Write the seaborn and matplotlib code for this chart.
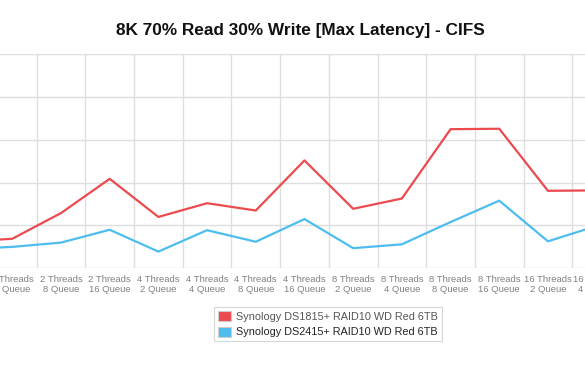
import pandas as pd
import matplotlib.pyplot as plt
import seaborn as sns
from matplotlib.patches import Patch

# --- DATEN ---
categories = [
    "2 Threads\n2 Queue", "2 Threads\n4 Queue", "2 Threads\n8 Queue", "2 Threads\n16 Queue",
    "4 Threads\n2 Queue", "4 Threads\n4 Queue", "4 Threads\n8 Queue", "4 Threads\n16 Queue",
    "8 Threads\n2 Queue", "8 Threads\n4 Queue", "8 Threads\n8 Queue", "8 Threads\n16 Queue",
    "16 Threads\n2 Queue", "16 Threads\n4 Queue",
]
series_names = ["Synology DS1815+ RAID10 WD Red 6TB", "Synology DS2415+ RAID10 WD Red 6TB"]
ds1815_values = [0.62, 0.69, 1.29, 2.09, 1.20, 1.52, 1.35, 2.52, 1.39, 1.63, 3.25, 3.26, 1.81, 1.82]
ds2415_values = [0.45, 0.50, 0.60, 0.90, 0.39, 0.89, 0.62, 1.15, 0.47, 0.56, 1.08, 1.58, 0.63, 0.99]
y_ticks = [0, 1, 2, 3, 4, 5]

RED = "#ec4a4e"
BLUE = "#4dbdef"
GRID = "#dedede"

df = pd.DataFrame({
    "Kategorie": categories * 2,
    "Wert": ds1815_values + ds2415_values,
    "Serie": [series_names[0]] * len(categories) + [series_names[1]] * len(categories),
})

sns.set_theme(style="white")
plt.rcParams["font.family"] = ["Liberation Sans", "DejaVu Sans"]

fig = plt.figure(figsize=(5.85, 3.70), dpi=100)
# Achse ist breiter als das Bild (Ausschnitt wie in der Vorlage)
ax = fig.add_axes([-60.75 / 585, 0.2749, 681.75 / 585, 0.5784])

sns.lineplot(data=df, x="Kategorie", y="Wert", hue="Serie", sort=False,
             palette=[RED, BLUE], linewidth=1.6, legend=False, ax=ax)

ax.set_xlim(-0.5, len(categories) - 0.5)
ax.set_ylim(y_ticks[0], y_ticks[-1])
ax.set_yticks(y_ticks)
ax.set_xticks(range(len(categories)))
ax.set_xticklabels(categories, fontsize=6.8, color="#808080", linespacing=1.15)
ax.set_xticks([i + 0.5 for i in range(-1, len(categories))], minor=True)
ax.tick_params(axis="x", which="both", length=0, pad=5)
ax.tick_params(axis="y", length=0, labelleft=False)
ax.grid(False)
ax.grid(True, axis="x", which="minor", color=GRID, linewidth=1)
ax.grid(True, axis="y", which="major", color=GRID, linewidth=1)
for s in ax.spines.values():
    s.set_visible(False)
ax.set_xlabel("")
ax.set_ylabel("")

fig.text(300.5 / 585, 1 - 30 / 370, "8K 70% Read 30% Write [Max Latency] - CIFS",
         ha="center", va="center", fontsize=12.4, fontweight="bold", color="#111111")

handles = [Patch(facecolor=RED, edgecolor="#cccccc", linewidth=0.8),
           Patch(facecolor=BLUE, edgecolor="#cccccc", linewidth=0.8)]
leg = fig.legend(handles, series_names, loc="upper center",
                 bbox_to_anchor=(328 / 585, 1 - 307 / 370), fontsize=7.8,
                 frameon=True, fancybox=False, edgecolor="#cccccc",
                 handlelength=1.2, handleheight=1.1, handletextpad=0.5,
                 labelspacing=0.45, borderpad=0.35, borderaxespad=0)
leg.get_frame().set_linewidth(0.8)
for t, c in zip(leg.get_texts(), ["#555555", "#222222"]):
    t.set_color(c)

plt.savefig("out.png", dpi=100)
plt.close()
